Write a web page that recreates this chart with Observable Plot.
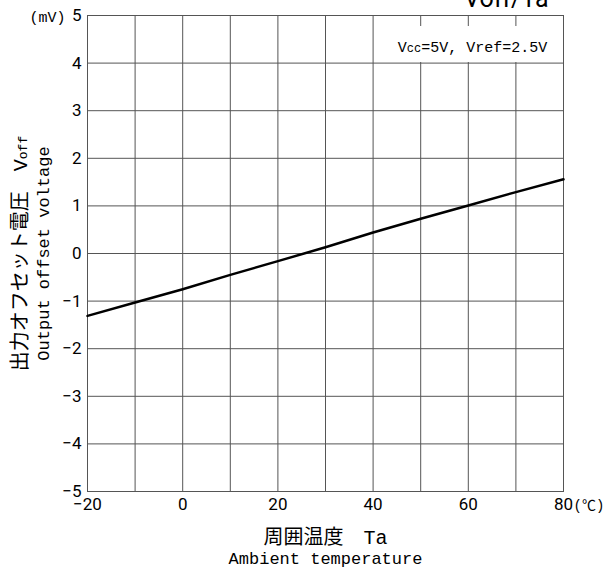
<!DOCTYPE html>
<html>
<head>
<meta charset="utf-8">
<script src="https://cdn.jsdelivr.net/npm/d3@7"></script>
<script src="https://cdn.jsdelivr.net/npm/@observablehq/plot@0.6"></script>
<style>
  html, body { margin: 0; padding: 0; background: #fff; }
  #chart svg { display: block; }
</style>
</head>
<body>
<div id="chart"></div>
<script>
// Data
const temps = [-20, -10, 0, 10, 20, 30, 40, 50, 60, 70, 80];
const voff  = [-1.31, -1.03, -0.75, -0.45, -0.16, 0.13, 0.44, 0.73, 1.01, 1.29, 1.56];
const xTicks = [-20, 0, 20, 40, 60, 80];
const xGrid = [-20, -10, 0, 10, 20, 30, 40, 50, 60, 70, 80];
const yTicks = [-5, -4, -3, -2, -1, 0, 1, 2, 3, 4, 5];
const titleText = ["Voff/Ta"];
const condText = ["Vcc=5V, Vref=2.5V"];
const yLabelJa = ["出力オフセット電圧　Voff"];
const yLabelEn = ["Output offset voltage"];
const xLabelJa = ["周囲温度　Ta"];
const xLabelEn = ["Ambient temperature"];
const yUnit = ["(mV)"];
const xUnit = ["(℃)"];

const data = temps.map((t, i) => ({t, v: voff[i]}));
const FONT = "'Liberation Mono', 'Noto Sans CJK JP', monospace";
const TICKFONT = "Roboto, 'Noto Sans', sans-serif";
const GRID = "#555";
const fmt = d => d < 0 ? "−" + Math.abs(d) : String(d);

// white box behind the condition note, placed relative to the frame
const noteBox = (index, scales, values, dims) => {
  const r = document.createElementNS("http://www.w3.org/2000/svg", "rect");
  const right = dims.width - dims.marginRight;
  r.setAttribute("x", right - 172);
  r.setAttribute("y", dims.marginTop + 11);
  r.setAttribute("width", 171);
  r.setAttribute("height", 36);
  r.setAttribute("fill", "white");
  return r;
};

const chart = Plot.plot({
  width: 604,
  height: 572,
  marginLeft: 87,
  marginRight: 41,
  marginTop: 15,
  marginBottom: 81,
  style: {fontFamily: FONT, fontSize: "17px", color: "#000", background: "#fff", overflow: "visible"},
  x: {domain: [-20, 80]},
  y: {domain: [-5, 5]},
  marks: [
    Plot.gridX(xGrid, {stroke: GRID, strokeOpacity: 1, strokeWidth: 1}),
    Plot.gridY(yTicks, {stroke: GRID, strokeOpacity: 1, strokeWidth: 1}),
    noteBox,
    Plot.frame({stroke: GRID, strokeWidth: 1}),
    Plot.axisX(xTicks, {tickSize: 0, tickPadding: 6, fontSize: 17, fontFamily: TICKFONT, tickFormat: fmt, label: null}),
    Plot.axisY(yTicks, {tickSize: 0, tickPadding: 6, fontSize: 17, fontFamily: TICKFONT, tickFormat: fmt, label: null}),
    Plot.text(condText, {frameAnchor: "top-right", dx: -91, dy: 32, textAnchor: "middle", lineAnchor: "middle",
      fontSize: 15, fill: "black", className: "cond"}),
    Plot.line(data, {x: "t", y: "v", stroke: "black", strokeWidth: 2.5}),
    Plot.text(titleText, {frameAnchor: "top-right", dx: -15, dy: -9, textAnchor: "end", lineAnchor: "bottom", fontSize: 25, fontFamily: TICKFONT}),
    Plot.text(yUnit, {frameAnchor: "top-left", dx: -22, dy: 2, textAnchor: "end", lineAnchor: "middle", fontSize: 15}),
    Plot.text(xUnit, {frameAnchor: "bottom-right", dx: 10, dy: 14, textAnchor: "start", lineAnchor: "middle", fontSize: 14}),
    Plot.text(xLabelJa, {frameAnchor: "bottom", dy: 46, textAnchor: "middle", lineAnchor: "middle", fontSize: 20}),
    Plot.text(xLabelEn, {frameAnchor: "bottom", dy: 67, textAnchor: "middle", lineAnchor: "middle", fontSize: 17}),
    Plot.text(yLabelJa, {frameAnchor: "left", dx: -67, rotate: -90, textAnchor: "middle", lineAnchor: "middle", fontSize: 20, className: "ylja"}),
    Plot.text(yLabelEn, {frameAnchor: "left", dx: -44, rotate: -90, textAnchor: "middle", lineAnchor: "middle", fontSize: 17})
  ]
});
document.getElementById("chart").appendChild(chart);

// Subscript styling for "cc" and "off"
function subscript(sel, base, sub, rest, size) {
  d3.select(chart).selectAll(sel).selectAll("text").each(function() {
    const el = d3.select(this);
    el.text(null);
    el.append("tspan").text(base);
    el.append("tspan").attr("font-size", size).text(sub);
    if (rest) el.append("tspan").text(rest);
  });
}
subscript(".cond", "V", "cc", "=5V, Vref=2.5V", 12);
subscript(".ylja", "出力オフセット電圧　V", "off", "", 13);
</script>
</body>
</html>
